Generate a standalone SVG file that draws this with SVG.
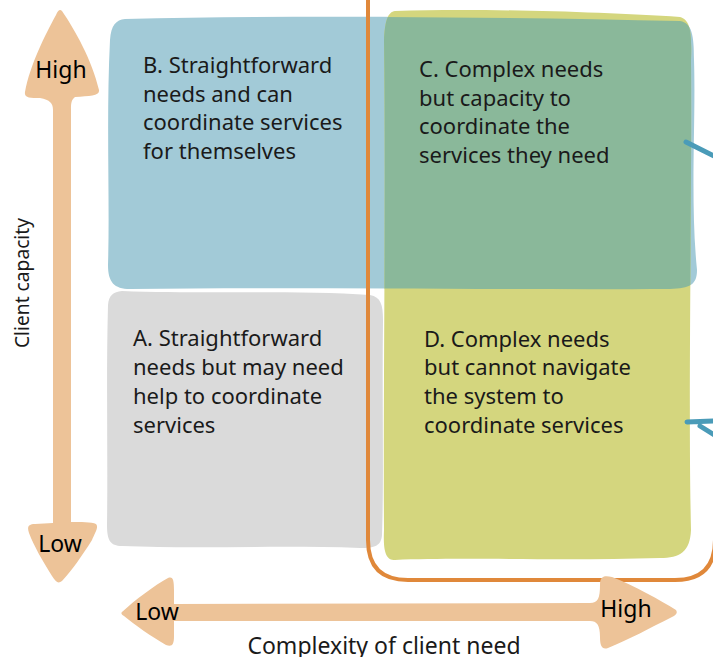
<svg xmlns="http://www.w3.org/2000/svg" width="713" height="657" viewBox="0 0 713 657">
<style>
.t{font-family:"Noto Sans","Liberation Sans",sans-serif;font-size:22px;fill:#1a1a1a}
.lab{font-family:"Noto Sans","Liberation Sans",sans-serif;font-size:23px;fill:#000}
.arrow{fill:#EDC398}
.teal{fill:none;stroke:#4A9BB8;stroke-width:5;stroke-linecap:round}
</style>
<defs>
<path id="yellowShape" d="M395,11 C480,8 600,12 680,17 C690,20 692,30 691,60 C692,200 688,400 691,530 C690,552 680,558 660,558 C560,561 460,557 395,560 C386,560 383,552 384,530 C383,400 386,200 384,40 C385,20 388,12 395,11 Z"/>
<path id="blueShape" d="M125,19 C300,15 500,17 680,21 C692,23 694,35 694,60 C696,120 690,200 697,270 C697,285 690,288 670,289 C500,290 300,287 130,289 C114,289 108,282 108,265 C110,200 106,120 110,40 C111,25 116,20 125,19 Z"/>
<clipPath id="clipY"><use href="#yellowShape"/></clipPath>
</defs>

<g id="node-B">
<use href="#blueShape" fill="#A2CAD7"/>
</g>
<g id="node-D">
<use href="#yellowShape" fill="#D4D67E"/>
</g>
<g id="node-C">
<use href="#blueShape" fill="#8AB89A" clip-path="url(#clipY)"/>
</g>
<g id="node-A">
<path d="M122,291 C200,294 300,290 370,295 C381,297 383,305 383,320 C382,400 384,480 382,535 C381,546 375,548 360,548 C280,545 200,549 122,546 C110,546 107,540 107,525 C108,450 106,380 108,305 C109,295 113,292 122,291 Z" fill="#DADADA"/>
</g>

<g id="highlight">
<path d="M368,-20 L368,540 Q368,580 408,580 L675,580 Q715,580 715,540 L715,-20" fill="none" stroke="#E0883A" stroke-width="4"/>
</g>

<g id="connectors">
<path class="teal" d="M686,142 L716,157"/>
<path class="teal" d="M687,422 L716,421 M700,426 L716,436"/>
</g>

<g id="axis-y">
<path class="arrow" d="M62,11 C75,30 92,60 99,90 C100,96 90,96 75,97 C71,100 71,104 71,110 L71,522 C80,522 92,522 96,524 C99,527 95,533 92,540 C82,556 72,570 62,581 C58,584 56,582 52,576 C42,560 34,546 29,533 C27,527 28,524 35,524 L53,523 L53,110 C53,103 50,100 40,98 C30,98 24,98 25,92 C30,65 45,35 56,15 C58,10 60,9 62,11 Z"/>
<text class="lab" x="61" y="78" text-anchor="middle">High</text>
<text class="lab" x="60" y="552" text-anchor="middle">Low</text>
<text class="t" transform="translate(29,283) rotate(-90)" text-anchor="middle" style="font-size:19.2px">Client capacity</text>
</g>

<g id="axis-x">
<path class="arrow" d="M122,612 C135,600 155,585 168,578 C173,576 174,580 174,590 L174,604 L590,603 C598,603 600,598 600,585 C600,577 603,575 612,577 C635,586 660,600 676,610 C678,613 676,615 672,617 C650,628 628,640 608,648 C602,650 600,646 600,637 C600,625 597,621 590,621 L174,621 L174,636 C174,645 172,647 166,645 C152,637 135,625 124,616 C121,614 121,613 122,612 Z"/>
<text class="lab" x="157" y="620" text-anchor="middle">Low</text>
<text class="lab" x="626" y="617" text-anchor="middle">High</text>
<text class="t" x="384" y="654" text-anchor="middle" style="font-size:23px">Complexity of client need</text>
</g>

<g id="text-B">
<text class="t" x="143" y="73">B. Straightforward</text>
<text class="t" x="143" y="102">needs and can</text>
<text class="t" x="143" y="130">coordinate services</text>
<text class="t" x="143" y="159">for themselves</text>
</g>
<g id="text-C">
<text class="t" x="419" y="77">C. Complex needs</text>
<text class="t" x="419" y="106">but capacity to</text>
<text class="t" x="419" y="134">coordinate the</text>
<text class="t" x="419" y="163">services they need</text>
</g>
<g id="text-A">
<text class="t" x="133" y="346">A. Straightforward</text>
<text class="t" x="133" y="375">needs but may need</text>
<text class="t" x="133" y="404">help to coordinate</text>
<text class="t" x="133" y="433">services</text>
</g>
<g id="text-D">
<text class="t" x="424" y="347">D. Complex needs</text>
<text class="t" x="424" y="375">but cannot navigate</text>
<text class="t" x="424" y="404">the system to</text>
<text class="t" x="424" y="433">coordinate services</text>
</g>
</svg>
